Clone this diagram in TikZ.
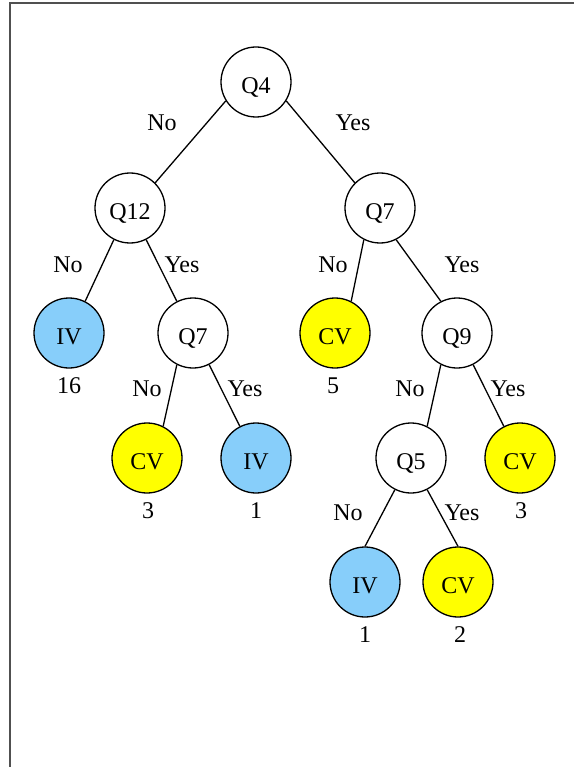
\documentclass[tikz,border=0pt]{standalone}
\usepackage{fontspec}
\setmainfont{Liberation Serif}
\definecolor{ivblue}{RGB}{135,206,250}
\definecolor{cvyellow}{RGB}{255,255,0}
\definecolor{framegray}{RGB}{80,80,80}
\begin{document}
\begin{tikzpicture}[x=1pt,y=-1pt,
  every node/.style={font=\fontsize{24}{28}\selectfont},
  qnode/.style={circle,draw=black,line width=1.3pt,minimum size=70pt,inner sep=0pt,text height=23pt,text depth=0pt,fill=white},
  ivnode/.style={qnode,fill=ivblue},
  cvnode/.style={qnode,fill=cvyellow},
  edge/.style={line width=1.3pt},
  elabel/.style={anchor=base},
  count/.style={anchor=base}]
\useasboundingbox (0,0) rectangle (574,767);
\draw[framegray,line width=2pt] (9.5,767) -- (9.5,3) -- (574,3);
% nodes
\node[qnode] (q4) at (256,82) {Q4};
\node[qnode] (q12) at (130,208) {Q12};
\node[qnode] (q7r) at (380,208) {Q7};
\node[ivnode] (iv16) at (69,333) {IV};
\node[qnode] (q7m) at (193,333) {Q7};
\node[cvnode] (cv5) at (335,333) {CV};
\node[qnode] (q9) at (457,333) {Q9};
\node[cvnode] (cv3l) at (147,458) {CV};
\node[ivnode] (iv1m) at (256,458) {IV};
\node[qnode] (q5) at (411,458) {Q5};
\node[cvnode] (cv3r) at (520,458) {CV};
\node[ivnode] (iv1b) at (365,582) {IV};
\node[cvnode] (cv2) at (458,582) {CV};
% edges
\draw[edge] (q4.212) -- (q12.45);
\draw[edge] (q4.-32) -- (q7r.135);
\draw[edge] (q12.-117) -- (iv16.63);
\draw[edge] (q12.-63) -- (q7m.117);
\draw[edge] (q7r.-117) -- (cv5.63);
\draw[edge] (q7r.-63) -- (q9.117);
\draw[edge] (q7m.-117) -- (cv3l.63);
\draw[edge] (q7m.-63) -- (iv1m.117);
\draw[edge] (q9.-117) -- (q5.63);
\draw[edge] (q9.-63) -- (cv3r.117);
\draw[edge] (q5.-117) -- (iv1b.north);
\draw[edge] (q5.-63) -- (cv2.north);
% edge labels
\node[elabel] (l1) at (162,131) {No};
\node[elabel] (l2) at (353,131) {Yes};
\node[elabel] (l3) at (68,272) {No};
\node[elabel] (l4) at (182,272) {Yes};
\node[elabel] (l5) at (333,272) {No};
\node[elabel] (l6) at (462,272) {Yes};
\node[elabel] (l7) at (147,396) {No};
\node[elabel] (l8) at (245,396) {Yes};
\node[elabel] (l9) at (410,396) {No};
\node[elabel] (l10) at (508,396) {Yes};
\node[elabel] (l11) at (348,520) {No};
\node[elabel] (l12) at (462,520) {Yes};
% counts
\node[count] (c16) at (69,393) {16};
\node[count] (c5) at (333,393) {5};
\node[count] (c3l) at (148,518) {3};
\node[count] (c1m) at (256,518) {1};
\node[count] (c3r) at (521,518) {3};
\node[count] (c1b) at (365,642) {1};
\node[count] (c2) at (460,642) {2};
\end{tikzpicture}
\end{document}
